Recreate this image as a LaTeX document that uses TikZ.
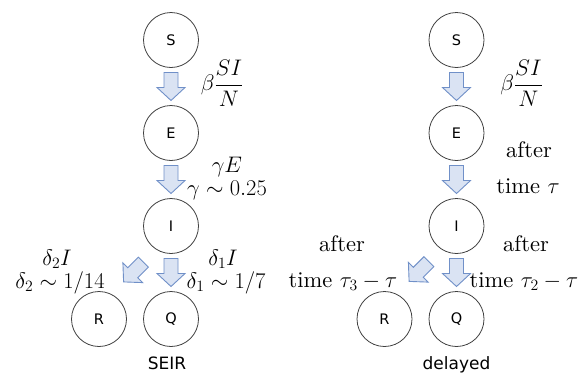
\RequirePackage{fix-cm}
\documentclass[tikz,border=0pt]{standalone}
\usepackage{amsmath}
\usepackage{fontspec}
\setmainfont{lmroman10-regular}[Extension=.otf,ItalicFont=lmroman10-italic,BoldFont=lmroman10-bold]
\usetikzlibrary{calc}
\newfontfamily\lblfont{DejaVu Sans}
\begin{document}
\begin{tikzpicture}[x=1pt,y=-1pt,
  state/.style={circle,draw=black!75,line width=0.8pt,minimum size=55pt,inner sep=0pt,font=\lblfont\fontsize{14.5}{16}\selectfont},
  arrowline/.style={draw=arrowblue,fill=arrowfill,line width=0.9pt,line join=miter},
  mlabel/.style={anchor=base,inner sep=0pt,font=\fontsize{22.5}{27}\selectfont},
  captiontext/.style={anchor=base,inner sep=0pt,font=\lblfont\fontsize{17}{20}\selectfont},
  blockarrow/.pic={\path[arrowline] (-7,-14) -- (7,-14) -- (7,1) -- (14,1) -- (0,14) -- (-14,1) -- (-7,1) -- cycle;}
]
\definecolor{arrowblue}{HTML}{7090C8}
\definecolor{arrowfill}{HTML}{DAE3F3}
\useasboundingbox (0,0) rectangle (580,373);
% left SEIR
\node[state] (S1) at (171,40) {S};
\node[state] (E1) at (171,133) {E};
\node[state] (I1) at (171,226) {I};
\node[state] (Q1) at (171,319) {Q};
\node[state] (R1) at (99,319) {R};
\pic at ($(S1.south)!0.5!(E1.north)$) {blockarrow};
\pic at ($(E1.south)!0.5!(I1.north)$) {blockarrow};
\pic at ($(I1.south)!0.5!(Q1.north)$) {blockarrow};
\pic[rotate=-45] at (133.5,272) {blockarrow};
\node[inner sep=0pt,font=\fontsize{22.5}{27}\selectfont] (b1) at (222,83) {$\beta\dfrac{SI}{N}$};
\node[mlabel] (g1) at (227,172) {$\gamma E$};
\node[mlabel] (g2) at (227,195) {$\gamma\sim0.25$};
\node[mlabel] (d2a) at (57,265) {$\delta_2 I$};
\node[mlabel] (d2b) at (60,288) {$\delta_2\sim1/14$};
\node[mlabel] (d1a) at (223,265) {$\delta_1 I$};
\node[mlabel] (d1b) at (226,288) {$\delta_1\sim1/7$};
\node[captiontext] (c1) at (167,369) {SEIR};
% right delayed
\node[state] (S2) at (456.5,40) {S};
\node[state] (E2) at (456.5,133) {E};
\node[state] (I2) at (456.5,226) {I};
\node[state] (Q2) at (456.5,319) {Q};
\node[state] (R2) at (384.5,319) {R};
\pic at ($(S2.south)!0.5!(E2.north)$) {blockarrow};
\pic at ($(E2.south)!0.5!(I2.north)$) {blockarrow};
\pic at ($(I2.south)!0.5!(Q2.north)$) {blockarrow};
\pic[rotate=-45] at (419,271.5) {blockarrow};
\node[inner sep=0pt,font=\fontsize{22.5}{27}\selectfont] (b2) at (521.5,83) {$\beta\dfrac{SI}{N}$};
\node[mlabel] (a1) at (529,157) {after};
\node[mlabel] (t1) at (528,193) {time $\tau$};
\node[mlabel] (a2) at (342,251) {after};
\node[mlabel] (t2) at (343,287) {time $\tau_3-\tau$};
\node[mlabel] (a3) at (526,251) {after};
\node[mlabel] (t3) at (524,287) {time $\tau_2-\tau$};
\node[captiontext] (c2) at (456.5,369) {delayed};
\end{tikzpicture}
\end{document}
